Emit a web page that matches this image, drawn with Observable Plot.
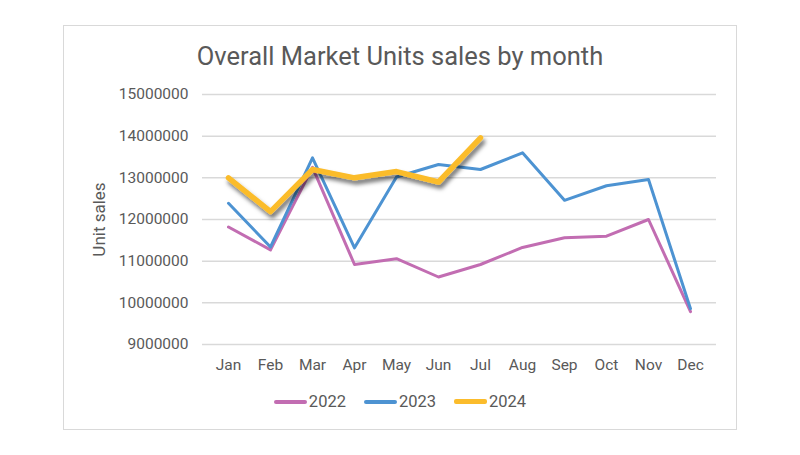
<!DOCTYPE html>
<html><head><meta charset="utf-8">
<script src="https://cdn.jsdelivr.net/npm/d3@7"></script>
<script src="https://cdn.jsdelivr.net/npm/@observablehq/plot@0.6"></script>
<style>
html,body{margin:0;padding:0;background:#fff;font-family:Roboto,"Noto Sans",sans-serif;}
#frame{position:absolute;left:63px;top:25px;width:674px;height:405px;border:1px solid #d9d9d9;box-sizing:border-box;}
#title{position:absolute;left:0;width:800px;top:41px;text-align:center;font-size:25.5px;color:#595959;line-height:30px;}
#chart{position:absolute;left:0;top:0;}
#legend{position:absolute;left:0;width:800px;top:392px;display:flex;justify-content:center;align-items:center;font-size:16.5px;color:#595959;}
.item{display:flex;align-items:center;margin:0 9px;}
.sw{width:33px;border-radius:2px;margin-right:2px;}
</style>
</head><body>
<div id="frame"></div>
<div id="title">Overall Market Units sales by month</div>
<div id="chart"></div>
<div id="legend"></div>
<script>
const months = ["Jan","Feb","Mar","Apr","May","Jun","Jul","Aug","Sep","Oct","Nov","Dec"];
const sales2022 = [11820000,11270000,13250000,10920000,11060000,10620000,10920000,11330000,11560000,11600000,12000000,9790000];
const sales2023 = [12390000,11340000,13480000,11320000,13020000,13320000,13200000,13600000,12460000,12810000,12960000,9860000];
const sales2024 = [13000000,12190000,13200000,13000000,13150000,12900000,13960000];
const yTicks = [9000000,10000000,11000000,12000000,13000000,14000000,15000000];
const seriesNames = ["2022","2023","2024"];
const seriesColors = ["#C26DB2","#4D93D2","#FBBC2C"];
const seriesWidths = [3,3,5.5];

const allSeries = [sales2022, sales2023, sales2024];
const rows = allSeries.map((vals, i) => vals.map((v, j) => ({month: months[j], value: v, series: seriesNames[i]})));

const chart = Plot.plot({
  width: 800,
  height: 455,
  marginLeft: 202,
  marginRight: 84,
  marginTop: 94,
  marginBottom: 111,
  style: {fontFamily: "Roboto, sans-serif", fontSize: "15.5px", color: "#595959", background: "transparent"},
  x: {type: "point", domain: months, padding: 0.5, label: null, tickSize: 0, tickPadding: 14},
  y: {domain: [9000000, 15000000], ticks: yTicks, tickFormat: d3.format("d"), label: null, tickSize: 0, tickPadding: 14},
  marks: [
    Plot.ruleY(yTicks, {stroke: "#d9d9d9", strokeWidth: 1.5}),
    Plot.line(rows[0], {x: "month", y: "value", stroke: seriesColors[0], strokeWidth: seriesWidths[0]}),
    Plot.line(rows[1], {x: "month", y: "value", stroke: seriesColors[1], strokeWidth: seriesWidths[1]}),
    Plot.line(rows[2], {x: "month", y: "value", stroke: seriesColors[2], strokeWidth: seriesWidths[2], className: "shadowed"}),
    Plot.text(["Unit sales"], {frameAnchor: "left", dx: -103, rotate: -90, textAnchor: "middle", text: d => d, fill: "#595959", fontSize: 17})
  ]
});

// drop shadow filter for the 2024 line
const ns = "http://www.w3.org/2000/svg";
const defs = document.createElementNS(ns, "defs");
defs.innerHTML = '<filter id="dshadow" x="-20%" y="-20%" width="140%" height="160%"><feDropShadow dx="2" dy="4" stdDeviation="2" flood-color="#000" flood-opacity="0.55"/></filter>';
chart.insertBefore(defs, chart.firstChild);
chart.querySelectorAll(".shadowed").forEach(g => g.setAttribute("filter", "url(#dshadow)"));

document.getElementById("chart").appendChild(chart);

const legend = document.getElementById("legend");
seriesNames.forEach((name, i) => {
  const item = document.createElement("div");
  item.className = "item";
  const sw = document.createElement("div");
  sw.className = "sw";
  sw.style.height = (i === 2 ? 5 : 4) + "px";
  sw.style.background = seriesColors[i];
  const t = document.createElement("span");
  t.textContent = name;
  item.appendChild(sw);
  item.appendChild(t);
  legend.appendChild(item);
});
</script>
</body></html>
